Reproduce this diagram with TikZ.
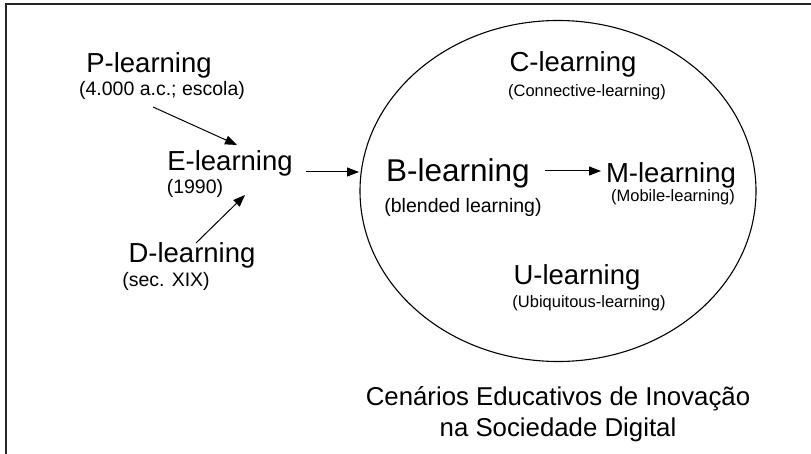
\documentclass[tikz,border=0pt]{standalone}
\usepackage{fontspec}
\setmainfont{Liberation Sans}
\usetikzlibrary{arrows.meta,shapes.geometric}
\begin{document}
\begin{tikzpicture}[x=1pt,y=-1pt,
  lbl/.style={inner sep=0pt,anchor=center},
  mainlbl/.style={lbl,font=\fontsize{27.5}{30}\selectfont},
  biglbl/.style={lbl,font=\fontsize{31.5}{34}\selectfont},
  sublbl/.style={lbl,font=\fontsize{19.5}{22}\selectfont},
  smalllbl/.style={lbl,font=\fontsize{16.5}{19}\selectfont},
  conn/.style={line width=1pt,-{Triangle[length=12pt,width=9pt]}},
  frame/.style={line width=2pt,black!85}
]
\useasboundingbox (0,0) rectangle (811,454);
\fill[white] (0,0) rectangle (811,454);
\draw[frame] (6,454) -- (6,4.5) -- (811,4.5);

\node[draw,ellipse,line width=1.1pt,minimum width=396pt,minimum height=341pt,inner sep=0pt] (circ) at (558,191) {};

\node[mainlbl] (P) at (149,65) {P-learning};
\node[sublbl] (Ps) at (162,90) {(4.000 a.c.; escola)};
\node[mainlbl] (E) at (230,163) {E-learning};
\node[sublbl] (Es) at (195,188) {(1990)};
\node[mainlbl] (D) at (192,255) {D-learning};
\node[sublbl] (Ds) at (166,281) {(sec. XIX)};
\node[biglbl] (B) at (458,173) {B-learning};
\node[sublbl] (Bs) at (463,207) {(blended learning)};
\node[mainlbl] (M) at (671,175) {M-learning};
\node[smalllbl] (Ms) at (673,197) {(Mobile-learning)};
\node[mainlbl] (C) at (573,64) {C-learning};
\node[smalllbl] (Cs) at (587,92) {(Connective-learning)};
\node[mainlbl] (U) at (577,277) {U-learning};
\node[smalllbl] (Us) at (589,303) {(Ubiquitous-learning)};
\node[lbl,align=center,font=\fontsize{25.8}{31}\selectfont] (T) at (558,414) {Cenários Educativos de Inovação\\na Sociedade Digital};

\coordinate (pe1) at (153,107);
\coordinate (pe2) at (237,145);
\coordinate (de1) at (196,243);
\coordinate (de2) at (245,195);
\coordinate (eb1) at (306,172);
\coordinate (eb2) at (359,172);
\coordinate (bm1) at (545,171);
\coordinate (bm2) at (601,171);
\draw[conn] (pe1) -- (pe2);
\draw[conn] (de1) -- (de2);
\draw[conn] (eb1) -- (eb2);
\draw[conn] (bm1) -- (bm2);
\end{tikzpicture}
\end{document}
